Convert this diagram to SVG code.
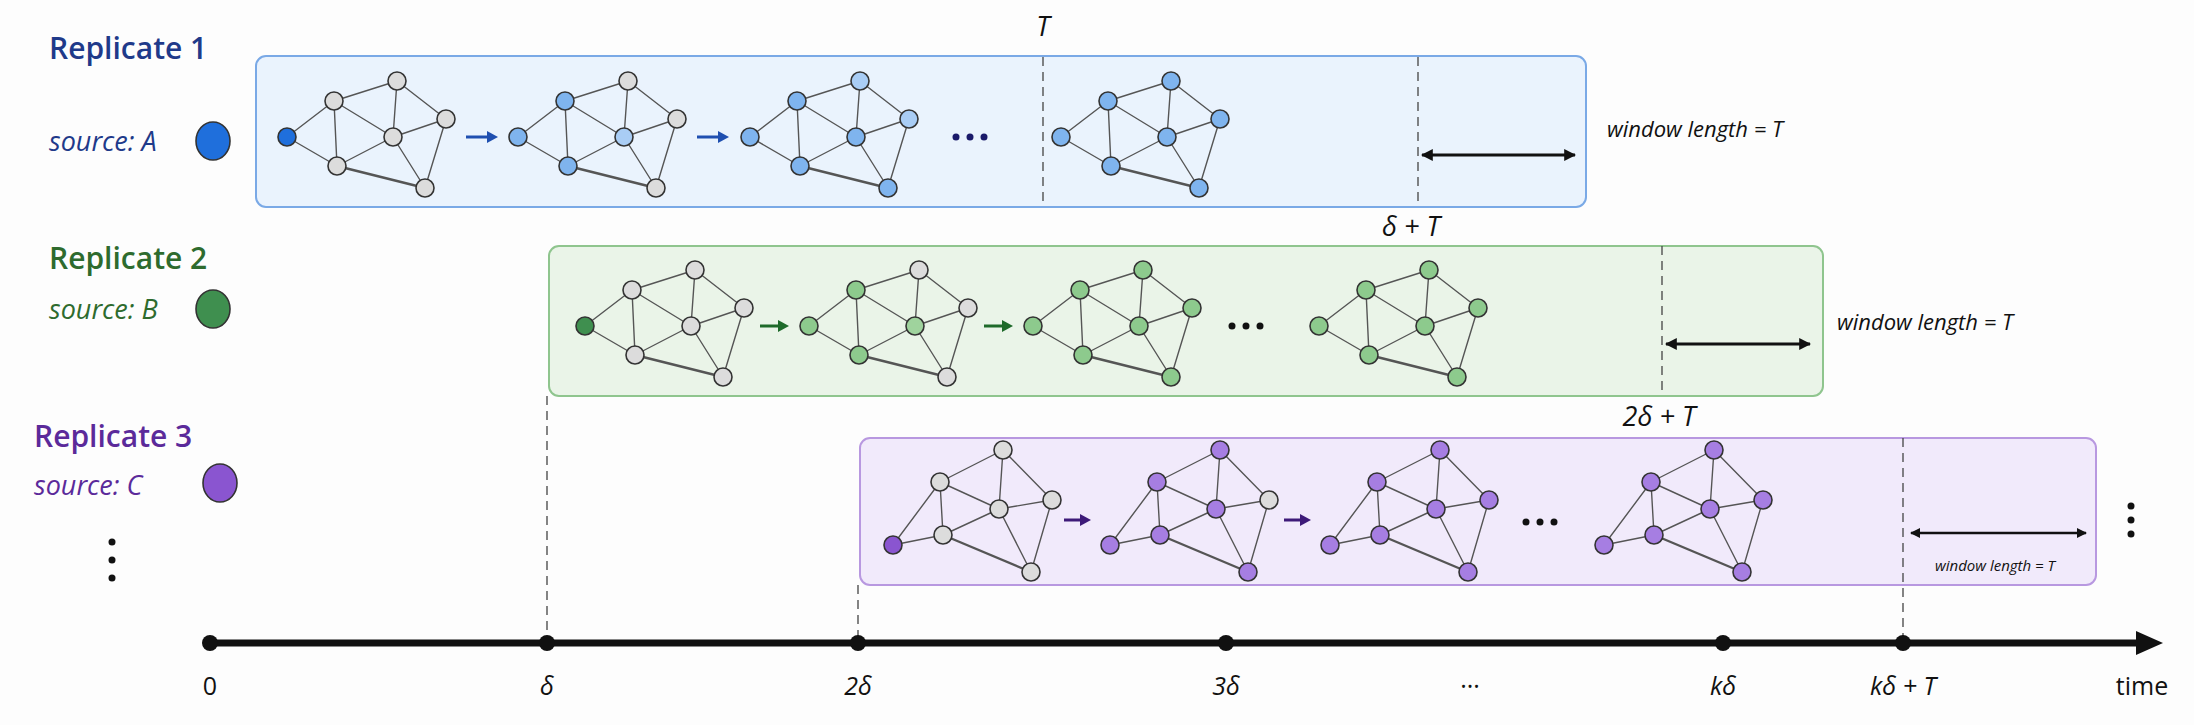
<svg xmlns="http://www.w3.org/2000/svg" xmlns:xlink="http://www.w3.org/1999/xlink" width="2194" height="725" viewBox="0 0 2194 725">
<style>
text{font-family:"Open Sans","Noto Sans","Liberation Sans",sans-serif}
.it{font-style:italic}
.e{stroke:#555;stroke-width:1.4;fill:none}
.eb{stroke:#555;stroke-width:2.4;fill:none}
.n{stroke:#333;stroke-width:1.6}
.g{fill:#dcdcdc}
.b1{fill:#a9cdf5}.b2{fill:#7fb4ee}.bs{fill:#1f6fdc}
.g1{fill:#9fd39d}.g2{fill:#8dca8d}.gs{fill:#3f8f4f}
.p1{fill:#a67ee2}.ps{fill:#8a55d0}
.dash{stroke:#444;stroke-width:1.3;stroke-dasharray:9 6;fill:none}
.ax{font-size:25px;fill:#111}
.wl{font-size:22px;fill:#111;font-style:italic}
.dot{fill:#1a1a6a}
</style>
<defs>
<marker id="ah" viewBox="0 0 10 10" refX="9" refY="5" markerWidth="4" markerHeight="4" orient="auto-start-reverse"><path d="M0,0L10,5L0,10z" fill="#111"/></marker>
<g id="edges">
<path class="e" d="M0,0L47,-36M0,0L50,29M47,-36L110,-56M47,-36L50,29M47,-36L106,0M110,-56L106,0M110,-56L159,-18M106,0L159,-18M106,0L50,29M159,-18L138,51M106,0L138,51"/>
<path class="eb" d="M50,29L138,51"/>
</g>
<g id="edges3">
<path class="e" d="M0,0L47,-63M0,0L50,-10M47,-63L110,-95M47,-63L50,-10M47,-63L106,-36M110,-95L106,-36M110,-95L159,-45M106,-36L159,-45M106,-36L50,-10M159,-45L138,27M106,-36L138,27"/>
<path class="eb" d="M50,-10L138,27"/>
</g>
</defs>
<rect width="2194" height="725" fill="#fdfdfd"/>

<g id="replicate1">
<rect x="256" y="56" width="1330" height="151" rx="10" fill="#eaf3fd" stroke="#7aa9e6" stroke-width="2"/>
<text x="49" y="59" font-size="30" font-weight="600" fill="#1f3a8a">Replicate 1</text>
<text x="49" y="151" font-size="27" class="it" fill="#1f3a8a">source: A</text>
<ellipse cx="213" cy="141" rx="17" ry="19" class="bs n"/>
<text x="1043" y="36" font-size="27" class="it" text-anchor="middle" fill="#111">T</text>
<text x="1607" y="137" class="wl">window length = T</text>
<g transform="translate(287,137)"><use href="#edges"/>
<circle r="9" class="n bs"/><circle cx="47" cy="-36" r="9" class="n g"/><circle cx="110" cy="-56" r="9" class="n g"/><circle cx="159" cy="-18" r="9" class="n g"/><circle cx="106" r="9" class="n g"/><circle cx="50" cy="29" r="9" class="n g"/><circle cx="138" cy="51" r="9" class="n g"/></g>
<g transform="translate(518,137)"><use href="#edges"/>
<circle r="9" class="n b2"/><circle cx="47" cy="-36" r="9" class="n b2"/><circle cx="110" cy="-56" r="9" class="n g"/><circle cx="159" cy="-18" r="9" class="n g"/><circle cx="106" r="9" class="n b1"/><circle cx="50" cy="29" r="9" class="n b2"/><circle cx="138" cy="51" r="9" class="n g"/></g>
<g transform="translate(750,137)"><use href="#edges"/>
<circle r="9" class="n b2"/><circle cx="47" cy="-36" r="9" class="n b2"/><circle cx="110" cy="-56" r="9" class="n b1"/><circle cx="159" cy="-18" r="9" class="n b1"/><circle cx="106" r="9" class="n b2"/><circle cx="50" cy="29" r="9" class="n b2"/><circle cx="138" cy="51" r="9" class="n b2"/></g>
<g transform="translate(1061,137)"><use href="#edges"/>
<circle r="9" class="n b2"/><circle cx="47" cy="-36" r="9" class="n b2"/><circle cx="110" cy="-56" r="9" class="n b2"/><circle cx="159" cy="-18" r="9" class="n b2"/><circle cx="106" r="9" class="n b2"/><circle cx="50" cy="29" r="9" class="n b2"/><circle cx="138" cy="51" r="9" class="n b2"/></g>
<path d="M466,137H490" stroke="#1f4fb0" stroke-width="3"/><path d="M487,131L498,137L487,143z" fill="#1f4fb0"/>
<path d="M697,137H721" stroke="#1f4fb0" stroke-width="3"/><path d="M718,131L729,137L718,143z" fill="#1f4fb0"/>
<circle cx="956" cy="137" r="3.5" class="dot"/><circle cx="970" cy="137" r="3.5" class="dot"/><circle cx="984" cy="137" r="3.5" class="dot"/>
</g>

<g id="replicate2">
<rect x="549" y="246" width="1274" height="150" rx="10" fill="#eaf4e8" stroke="#8fc58e" stroke-width="2"/>
<text x="49" y="269" font-size="30" font-weight="600" fill="#2e6b2e">Replicate 2</text>
<text x="49" y="319" font-size="27" class="it" fill="#2e6b2e">source: B</text>
<ellipse cx="213" cy="309" rx="17" ry="19" class="gs n"/>
<text x="1411" y="236" font-size="27" class="it" text-anchor="middle" fill="#111">δ + T</text>
<text x="1837" y="330" class="wl">window length = T</text>
<g transform="translate(585,326)"><use href="#edges"/>
<circle r="9" class="n gs"/><circle cx="47" cy="-36" r="9" class="n g"/><circle cx="110" cy="-56" r="9" class="n g"/><circle cx="159" cy="-18" r="9" class="n g"/><circle cx="106" r="9" class="n g"/><circle cx="50" cy="29" r="9" class="n g"/><circle cx="138" cy="51" r="9" class="n g"/></g>
<g transform="translate(809,326)"><use href="#edges"/>
<circle r="9" class="n g2"/><circle cx="47" cy="-36" r="9" class="n g2"/><circle cx="110" cy="-56" r="9" class="n g"/><circle cx="159" cy="-18" r="9" class="n g"/><circle cx="106" r="9" class="n g1"/><circle cx="50" cy="29" r="9" class="n g2"/><circle cx="138" cy="51" r="9" class="n g"/></g>
<g transform="translate(1033,326)"><use href="#edges"/>
<circle r="9" class="n g2"/><circle cx="47" cy="-36" r="9" class="n g2"/><circle cx="110" cy="-56" r="9" class="n g2"/><circle cx="159" cy="-18" r="9" class="n g2"/><circle cx="106" r="9" class="n g2"/><circle cx="50" cy="29" r="9" class="n g2"/><circle cx="138" cy="51" r="9" class="n g2"/></g>
<g transform="translate(1319,326)"><use href="#edges"/>
<circle r="9" class="n g2"/><circle cx="47" cy="-36" r="9" class="n g2"/><circle cx="110" cy="-56" r="9" class="n g2"/><circle cx="159" cy="-18" r="9" class="n g2"/><circle cx="106" r="9" class="n g2"/><circle cx="50" cy="29" r="9" class="n g2"/><circle cx="138" cy="51" r="9" class="n g2"/></g>
<path d="M760,326H781" stroke="#1e6a2a" stroke-width="3"/><path d="M778,320L789,326L778,332z" fill="#1e6a2a"/>
<path d="M984,326H1005" stroke="#1e6a2a" stroke-width="3"/><path d="M1002,320L1013,326L1002,332z" fill="#1e6a2a"/>
<circle cx="1232" cy="326" r="3.5" fill="#111"/><circle cx="1246" cy="326" r="3.5" fill="#111"/><circle cx="1260" cy="326" r="3.5" fill="#111"/>
</g>

<g id="replicate3">
<rect x="860" y="438" width="1236" height="147" rx="10" fill="#f1eafb" stroke="#b898e0" stroke-width="2"/>
<text x="34" y="447" font-size="30" font-weight="600" fill="#5b2a9a">Replicate 3</text>
<text x="34" y="495" font-size="27" class="it" fill="#5b2a9a">source: C</text>
<ellipse cx="220" cy="483" rx="17" ry="19" class="ps n"/>
<text x="1659" y="426" font-size="27" class="it" text-anchor="middle" fill="#111">2δ + T</text>
<text x="1995" y="571" font-size="15" class="it" text-anchor="middle" fill="#111">window length = T</text>
<g transform="translate(893,545)"><use href="#edges3"/>
<circle r="9" class="n ps"/><circle cx="47" cy="-63" r="9" class="n g"/><circle cx="110" cy="-95" r="9" class="n g"/><circle cx="159" cy="-45" r="9" class="n g"/><circle cx="106" cy="-36" r="9" class="n g"/><circle cx="50" cy="-10" r="9" class="n g"/><circle cx="138" cy="27" r="9" class="n g"/></g>
<g transform="translate(1110,545)"><use href="#edges3"/>
<circle r="9" class="n p1"/><circle cx="47" cy="-63" r="9" class="n p1"/><circle cx="110" cy="-95" r="9" class="n p1"/><circle cx="159" cy="-45" r="9" class="n g"/><circle cx="106" cy="-36" r="9" class="n p1"/><circle cx="50" cy="-10" r="9" class="n p1"/><circle cx="138" cy="27" r="9" class="n p1"/></g>
<g transform="translate(1330,545)"><use href="#edges3"/>
<circle r="9" class="n p1"/><circle cx="47" cy="-63" r="9" class="n p1"/><circle cx="110" cy="-95" r="9" class="n p1"/><circle cx="159" cy="-45" r="9" class="n p1"/><circle cx="106" cy="-36" r="9" class="n p1"/><circle cx="50" cy="-10" r="9" class="n p1"/><circle cx="138" cy="27" r="9" class="n p1"/></g>
<g transform="translate(1604,545)"><use href="#edges3"/>
<circle r="9" class="n p1"/><circle cx="47" cy="-63" r="9" class="n p1"/><circle cx="110" cy="-95" r="9" class="n p1"/><circle cx="159" cy="-45" r="9" class="n p1"/><circle cx="106" cy="-36" r="9" class="n p1"/><circle cx="50" cy="-10" r="9" class="n p1"/><circle cx="138" cy="27" r="9" class="n p1"/></g>
<path d="M1064,520H1083" stroke="#3d1a78" stroke-width="3"/><path d="M1080,514L1091,520L1080,526z" fill="#3d1a78"/>
<path d="M1284,520H1303" stroke="#3d1a78" stroke-width="3"/><path d="M1300,514L1311,520L1300,526z" fill="#3d1a78"/>
<circle cx="1526" cy="522" r="3.5" fill="#111"/><circle cx="1540" cy="522" r="3.5" fill="#111"/><circle cx="1554" cy="522" r="3.5" fill="#111"/>
</g>

<g id="more">
<circle cx="112" cy="542" r="3.5" fill="#111"/><circle cx="112" cy="560" r="3.5" fill="#111"/><circle cx="112" cy="578" r="3.5" fill="#111"/>
<circle cx="2131" cy="506" r="3.5" fill="#111"/><circle cx="2131" cy="520" r="3.5" fill="#111"/><circle cx="2131" cy="534" r="3.5" fill="#111"/>
</g>

<g id="connectors">
<line class="dash" x1="1043" y1="57" x2="1043" y2="206"/>
<line class="dash" x1="1418" y1="57" x2="1418" y2="206"/>
<line class="dash" x1="1662" y1="246" x2="1662" y2="395"/>
<line class="dash" x1="1903" y1="438" x2="1903" y2="643"/>
<line class="dash" x1="547" y1="396" x2="547" y2="643"/>
<line class="dash" x1="858" y1="585" x2="858" y2="643"/>
<line x1="1422" y1="155" x2="1575" y2="155" stroke="#111" stroke-width="3" marker-start="url(#ah)" marker-end="url(#ah)"/>
<line x1="1666" y1="344" x2="1810" y2="344" stroke="#111" stroke-width="3" marker-start="url(#ah)" marker-end="url(#ah)"/>
<line x1="1911" y1="533" x2="2086" y2="533" stroke="#111" stroke-width="2.5" marker-start="url(#ah)" marker-end="url(#ah)"/>
<line x1="210" y1="643" x2="2140" y2="643" stroke="#111" stroke-width="7"/>
<path d="M2136,631L2163,643L2136,655z" fill="#111"/>
</g>

<g id="axis">
<circle cx="210" cy="643" r="8" fill="#111"/><circle cx="547" cy="643" r="8" fill="#111"/><circle cx="858" cy="643" r="8" fill="#111"/><circle cx="1226" cy="643" r="8" fill="#111"/><circle cx="1723" cy="643" r="8" fill="#111"/><circle cx="1903" cy="643" r="8" fill="#111"/>
<text x="210" y="695" class="ax" text-anchor="middle">0</text>
<text x="547" y="695" class="ax it" text-anchor="middle">δ</text>
<text x="858" y="695" class="ax it" text-anchor="middle">2δ</text>
<text x="1226" y="695" class="ax it" text-anchor="middle">3δ</text>
<text x="1470" y="695" class="ax" text-anchor="middle">···</text>
<text x="1723" y="695" class="ax it" text-anchor="middle">kδ</text>
<text x="1903" y="695" class="ax it" text-anchor="middle">kδ + T</text>
<text x="2142" y="695" class="ax" text-anchor="middle">time</text>
</g>
</svg>
